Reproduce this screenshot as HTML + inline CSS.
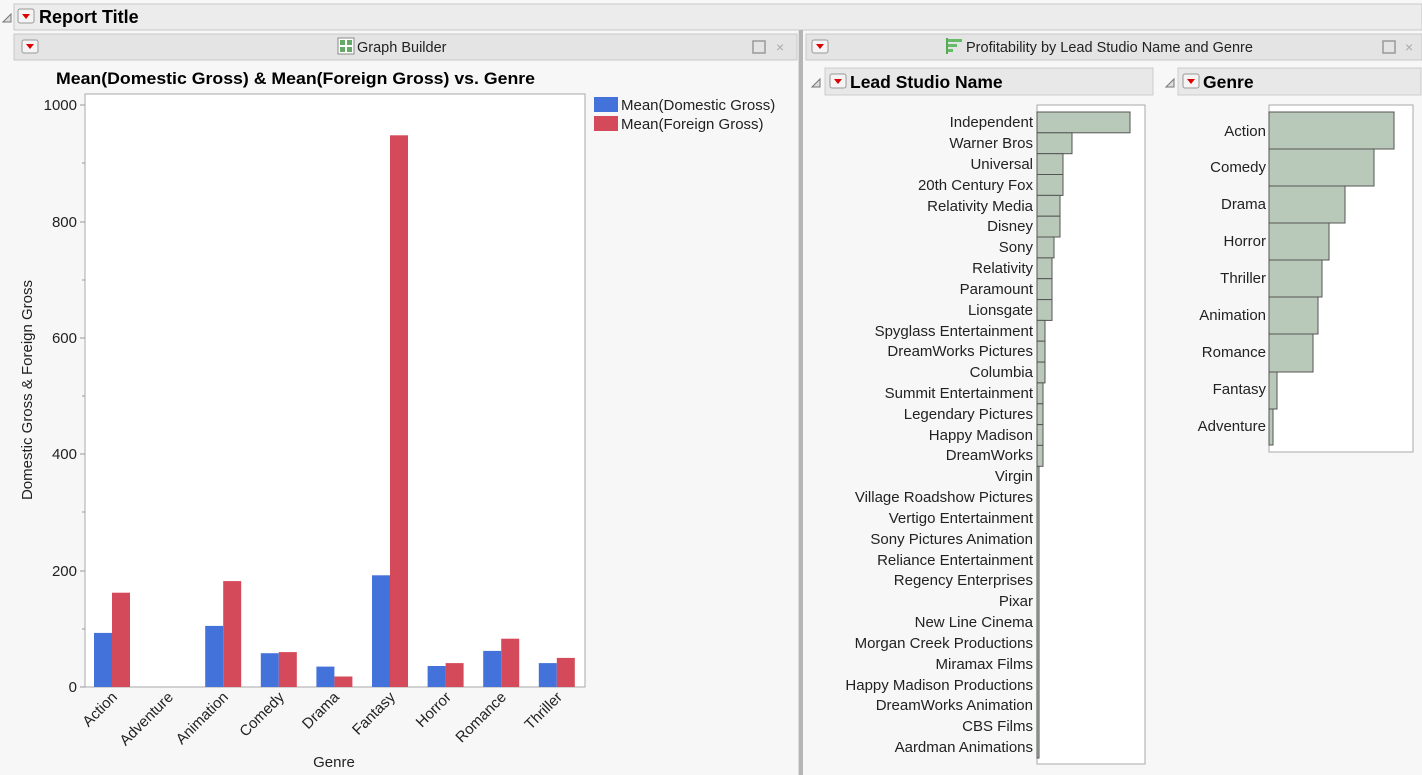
<!DOCTYPE html>
<html><head><meta charset="utf-8"><style>
html,body{margin:0;padding:0;background:#f7f7f7;}
svg{display:block;font-family:"Liberation Sans",sans-serif;}
</style></head><body>
<svg width="1422" height="775" viewBox="0 0 1422 775" xmlns="http://www.w3.org/2000/svg">
<rect width="1422" height="775" fill="#f7f7f7"/>
<!-- Report title -->
<path d="M3 22 L11 14 L11 22 Z" fill="#ddd" stroke="#777"/>
<rect x="14" y="4" width="1408" height="26" fill="#ececec" stroke="#c8c8c8"/>
<rect x="18" y="9" width="16" height="14" rx="2" fill="#f4f4f4" stroke="#999"/>
<path d="M22 14 L30 14 L26 19 Z" fill="#d00"/>
<text x="39" y="23" font-size="18" font-weight="bold">Report Title</text>
<!-- Graph builder header -->
<rect x="14" y="34" width="783" height="26" fill="#e4e4e4" stroke="#c8c8c8"/>
<rect x="22" y="40" width="16" height="13" rx="2" fill="#f4f4f4" stroke="#999"/>
<path d="M26 44 L34 44 L30 49 Z" fill="#d00"/>
<rect x="338" y="38" width="16" height="16" fill="#fff" stroke="#888"/>
<rect x="340" y="40" width="5" height="5" fill="#6a6"/><rect x="347" y="40" width="5" height="5" fill="#6a6"/>
<rect x="340" y="47" width="5" height="5" fill="#6a6"/><rect x="347" y="47" width="5" height="5" fill="#6a6"/>
<text x="357" y="52" font-size="14.5" fill="#222">Graph Builder</text>
<rect x="753" y="41" width="12" height="12" fill="none" stroke="#999" stroke-width="1.5"/>
<text x="776" y="52" font-size="14" fill="#aaa">×</text>
<!-- divider -->
<rect x="798" y="30" width="1" height="745" fill="#ddd"/>
<rect x="799" y="30" width="4" height="745" fill="#b5b5b5"/>
<!-- right header -->
<rect x="806" y="34" width="616" height="26" fill="#e4e4e4" stroke="#c8c8c8"/>
<rect x="812" y="40" width="16" height="13" rx="2" fill="#f4f4f4" stroke="#999"/>
<path d="M816 44 L824 44 L820 49 Z" fill="#d00"/>
<rect x="946" y="38" width="2" height="16" fill="#5a5"/>
<rect x="948" y="39" width="14" height="3" fill="#6b6"/><rect x="948" y="44" width="9" height="3" fill="#6b6"/><rect x="948" y="49" width="5" height="3" fill="#6b6"/>
<text x="966" y="52" font-size="14.5" fill="#222">Profitability by Lead Studio Name and Genre</text>
<rect x="1383" y="41" width="12" height="12" fill="none" stroke="#999" stroke-width="1.5"/>
<text x="1405" y="52" font-size="14" fill="#aaa">×</text>
<!-- chart title -->
<text x="56" y="84" font-size="17" font-weight="bold" textLength="479" lengthAdjust="spacingAndGlyphs">Mean(Domestic Gross) &amp; Mean(Foreign Gross) vs. Genre</text>
<!-- plot -->
<rect x="85" y="94" width="500" height="593" fill="#fff" stroke="#aaa"/>
<g stroke="#999">
<line x1="80" y1="105" x2="85" y2="105"/><line x1="82" y1="163" x2="85" y2="163"/>
<line x1="80" y1="222" x2="85" y2="222"/><line x1="82" y1="280" x2="85" y2="280"/>
<line x1="80" y1="338" x2="85" y2="338"/><line x1="82" y1="396" x2="85" y2="396"/>
<line x1="80" y1="454" x2="85" y2="454"/><line x1="82" y1="512" x2="85" y2="512"/>
<line x1="80" y1="571" x2="85" y2="571"/><line x1="82" y1="629" x2="85" y2="629"/>
<line x1="80" y1="687" x2="85" y2="687"/>
</g>
<g font-size="15" text-anchor="end" fill="#222">
<text x="77" y="110">1000</text><text x="77" y="227">800</text><text x="77" y="343">600</text>
<text x="77" y="459">400</text><text x="77" y="576">200</text><text x="77" y="692">0</text>
</g>
<text transform="translate(32,390) rotate(-90)" font-size="15" text-anchor="middle" fill="#222">Domestic Gross &amp; Foreign Gross</text>
<g fill="#4472db">
<rect x="94" y="632.9" width="18" height="54.1"/>
<rect x="205.2" y="625.9" width="18" height="61.1"/>
<rect x="260.8" y="653.2" width="18" height="33.8"/>
<rect x="316.4" y="666.6" width="18" height="20.4"/>
<rect x="372" y="575.3" width="18" height="111.7"/>
<rect x="427.6" y="666" width="18" height="21"/>
<rect x="483.2" y="650.9" width="18" height="36.1"/>
<rect x="538.8" y="663.1" width="18" height="23.9"/>
</g>
<g fill="#d44a5a">
<rect x="112" y="592.7" width="18" height="94.3"/>
<rect x="223.2" y="581.1" width="18" height="105.9"/>
<rect x="278.8" y="652.1" width="18" height="34.9"/>
<rect x="334.4" y="676.5" width="18" height="10.5"/>
<rect x="390" y="135.3" width="18" height="551.7"/>
<rect x="445.6" y="663.1" width="18" height="23.9"/>
<rect x="501.2" y="638.7" width="18" height="48.3"/>
<rect x="556.8" y="657.9" width="18" height="29.1"/>
</g>
<g font-size="15" text-anchor="end" fill="#222">
<text transform="translate(118,698) rotate(-45)">Action</text>
<text transform="translate(174,698) rotate(-45)">Adventure</text>
<text transform="translate(229,698) rotate(-45)">Animation</text>
<text transform="translate(285,698) rotate(-45)">Comedy</text>
<text transform="translate(340,698) rotate(-45)">Drama</text>
<text transform="translate(396,698) rotate(-45)">Fantasy</text>
<text transform="translate(452,698) rotate(-45)">Horror</text>
<text transform="translate(507,698) rotate(-45)">Romance</text>
<text transform="translate(563,698) rotate(-45)">Thriller</text>
</g>
<text x="334" y="767" font-size="15" text-anchor="middle" fill="#222">Genre</text>
<!-- legend -->
<rect x="594" y="97" width="24" height="15" fill="#4472db"/>
<text x="621" y="110" font-size="15" fill="#222">Mean(Domestic Gross)</text>
<rect x="594" y="116" width="24" height="15" fill="#d44a5a"/>
<text x="621" y="129" font-size="15" fill="#222">Mean(Foreign Gross)</text>
<!-- sub headers -->
<path d="M812 87 L820 79 L820 87 Z" fill="#ddd" stroke="#777"/>
<rect x="825" y="68" width="328" height="27" fill="#e8e8e8" stroke="#ccc"/>
<rect x="830" y="74" width="16" height="14" rx="2" fill="#f4f4f4" stroke="#999"/>
<path d="M834 79 L842 79 L838 84 Z" fill="#d00"/>
<text x="850" y="88" font-size="17.5" font-weight="bold">Lead Studio Name</text>
<path d="M1166 87 L1174 79 L1174 87 Z" fill="#ddd" stroke="#777"/>
<rect x="1178" y="68" width="243" height="27" fill="#e8e8e8" stroke="#ccc"/>
<rect x="1183" y="74" width="16" height="14" rx="2" fill="#f4f4f4" stroke="#999"/>
<path d="M1187 79 L1195 79 L1191 84 Z" fill="#d00"/>
<text x="1203" y="88" font-size="17.5" font-weight="bold">Genre</text>
<!-- studio chart -->
<rect x="1037" y="105" width="108" height="659" fill="#fff" stroke="#aaa"/>
<g fill="#b9c9b9" stroke="#555">
<rect x="1037" y="112" width="93" height="20.8"/>
<rect x="1037" y="132.8" width="35" height="20.9"/>
<rect x="1037" y="153.7" width="26" height="20.8"/>
<rect x="1037" y="174.5" width="26" height="20.9"/>
<rect x="1037" y="195.4" width="23" height="20.8"/>
<rect x="1037" y="216.2" width="23" height="20.8"/>
<rect x="1037" y="237" width="17" height="20.9"/>
<rect x="1037" y="257.9" width="15" height="20.8"/>
<rect x="1037" y="278.7" width="15" height="20.9"/>
<rect x="1037" y="299.6" width="15" height="20.8"/>
<rect x="1037" y="320.4" width="8" height="20.8"/>
<rect x="1037" y="341.2" width="8" height="20.9"/>
<rect x="1037" y="362.1" width="8" height="20.8"/>
<rect x="1037" y="382.9" width="6" height="20.9"/>
<rect x="1037" y="403.8" width="6" height="20.8"/>
<rect x="1037" y="424.6" width="6" height="20.8"/>
<rect x="1037" y="445.4" width="6" height="20.9"/>
<rect x="1037" y="466.3" width="2" height="291.7"/>
</g>
<g font-size="15" text-anchor="end" fill="#222">
<text x="1033" y="127">Independent</text>
<text x="1033" y="148">Warner Bros</text>
<text x="1033" y="169">Universal</text>
<text x="1033" y="190">20th Century Fox</text>
<text x="1033" y="211">Relativity Media</text>
<text x="1033" y="231">Disney</text>
<text x="1033" y="252">Sony</text>
<text x="1033" y="273">Relativity</text>
<text x="1033" y="294">Paramount</text>
<text x="1033" y="315">Lionsgate</text>
<text x="1033" y="336">Spyglass Entertainment</text>
<text x="1033" y="356">DreamWorks Pictures</text>
<text x="1033" y="377">Columbia</text>
<text x="1033" y="398">Summit Entertainment</text>
<text x="1033" y="419">Legendary Pictures</text>
<text x="1033" y="440">Happy Madison</text>
<text x="1033" y="460">DreamWorks</text>
<text x="1033" y="481">Virgin</text>
<text x="1033" y="502">Village Roadshow Pictures</text>
<text x="1033" y="523">Vertigo Entertainment</text>
<text x="1033" y="544">Sony Pictures Animation</text>
<text x="1033" y="565">Reliance Entertainment</text>
<text x="1033" y="585">Regency Enterprises</text>
<text x="1033" y="606">Pixar</text>
<text x="1033" y="627">New Line Cinema</text>
<text x="1033" y="648">Morgan Creek Productions</text>
<text x="1033" y="669">Miramax Films</text>
<text x="1033" y="690">Happy Madison Productions</text>
<text x="1033" y="710">DreamWorks Animation</text>
<text x="1033" y="731">CBS Films</text>
<text x="1033" y="752">Aardman Animations</text>
</g>
<!-- genre chart -->
<rect x="1269" y="105" width="144" height="347" fill="#fff" stroke="#aaa"/>
<g fill="#b9c9b9" stroke="#555">
<rect x="1269" y="112" width="125" height="37"/>
<rect x="1269" y="149" width="105" height="37"/>
<rect x="1269" y="186" width="76" height="37"/>
<rect x="1269" y="223" width="60" height="37"/>
<rect x="1269" y="260" width="53" height="37"/>
<rect x="1269" y="297" width="49" height="37"/>
<rect x="1269" y="334" width="44" height="38"/>
<rect x="1269" y="372" width="8" height="37"/>
<rect x="1269" y="409" width="4" height="36"/>
</g>
<g font-size="15" text-anchor="end" fill="#222">
<text x="1266" y="136">Action</text>
<text x="1266" y="172">Comedy</text>
<text x="1266" y="209">Drama</text>
<text x="1266" y="246">Horror</text>
<text x="1266" y="283">Thriller</text>
<text x="1266" y="320">Animation</text>
<text x="1266" y="357">Romance</text>
<text x="1266" y="394">Fantasy</text>
<text x="1266" y="431">Adventure</text>
</g>
</svg>
</body></html>
